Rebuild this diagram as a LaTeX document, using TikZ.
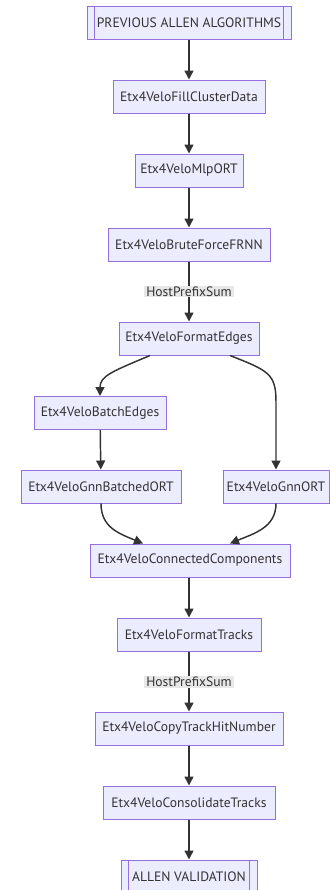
\documentclass[tikz,border=0pt]{standalone}
\usepackage{fontspec}
\setmainfont{PT Sans}
\usetikzlibrary{arrows.meta,calc}
\definecolor{nodefill}{HTML}{ECECFF}
\definecolor{nodeline}{HTML}{9370DB}
\definecolor{edgeline}{HTML}{333333}
\definecolor{labelbg}{HTML}{E8E8E8}
\definecolor{textcol}{HTML}{333333}
\begin{document}
\begin{tikzpicture}[
  x=0.75pt, y=-0.75pt,
  stepbox/.style={draw=nodeline, fill=nodefill, line width=0.75pt,
    minimum height=24.75pt, inner sep=0pt, text=textcol,
    font=\fontsize{10.2}{12}\selectfont},
  edgelabel/.style={fill=labelbg, inner xsep=1.5pt, inner ysep=0.8pt,
    text=textcol, font=\fontsize{10.2}{12}\selectfont},
  arr/.style={draw=edgeline, line width=1.1pt,
    -{Triangle[length=6.75pt,width=6.75pt]}},
  subline/.style={draw=nodeline, line width=0.75pt}
]
\useasboundingbox (0,0) rectangle (329,890);

% main column (widths given in pt: px * 0.75)
\node[stepbox, minimum width=153pt] (prev) at (189,23)    {PREVIOUS ALLEN ALGORITHMS};
\node[stepbox, minimum width=114pt] (fcd)  at (189,96.5)  {Etx4VeloFillClusterData};
\node[stepbox, minimum width=81pt]  (mlp)  at (189,170.5) {Etx4VeloMlpORT};
\node[stepbox, minimum width=121.5pt] (frnn) at (189,244.5) {Etx4VeloBruteForceFRNN};
\node[stepbox, minimum width=105pt] (fe)   at (189,338.5) {Etx4VeloFormatEdges};

% two branches
\node[stepbox, minimum width=99pt]  (be)   at (100,413)   {Etx4VeloBatchEdges};
\node[stepbox, minimum width=120pt] (gbo)  at (101,486.5) {Etx4VeloGnnBatchedORT};
\node[stepbox, minimum width=79.5pt] (gno) at (276,486.5) {Etx4VeloGnnORT};

% merged column
\node[stepbox, minimum width=150pt] (cc)   at (190,560.5) {Etx4VeloConnectedComponents};
\node[stepbox, minimum width=108pt] (ft)   at (189,634.5) {Etx4VeloFormatTracks};
\node[stepbox, minimum width=141pt] (cthn) at (189,728.5) {Etx4VeloCopyTrackHitNumber};
\node[stepbox, minimum width=129pt] (ct)   at (189,802.5) {Etx4VeloConsolidateTracks};
\node[stepbox, minimum width=102pt] (val)  at (189,876.5) {ALLEN VALIDATION};

% subroutine side bars
\foreach \n in {prev,val}{
  \draw[subline] ($(\n.north west)+(8,0)$) -- ($(\n.south west)+(8,0)$);
  \draw[subline] ($(\n.north east)+(-8,0)$) -- ($(\n.south east)+(-8,0)$);
}

% straight connectors
\draw[arr] (prev) -- (fcd);
\draw[arr] (fcd) -- (mlp);
\draw[arr] (mlp) -- (frnn);
\draw[arr] (frnn) -- node[edgelabel]{HostPrefixSum} (fe);
\draw[arr] (be) -- (gbo);
\draw[arr] (cc.south -| ft.north) -- (ft);
\draw[arr] (ft) -- node[edgelabel]{HostPrefixSum} (cthn);
\draw[arr] (cthn) -- (ct);
\draw[arr] (ct) -- (val);

% branching curves
\draw[arr] ($(fe.south)+(-39,0)$) .. controls +(-38,16) and +(0,-20) .. (be.north);
\draw[arr] ($(fe.south)+(41,0)$) .. controls +(38,15) and +(0,-28) .. ($(gno.north)+(0,-68)$) -- (gno.north);

% merging curves
\draw[arr] (gbo.south) .. controls +(0,24) and +(-24,-10) .. ($(cc.north)+(-47,0)$);
\draw[arr] (gno.south) .. controls +(0,24) and +(24,-10) .. ($(cc.north)+(40,0)$);
\end{tikzpicture}
\end{document}
